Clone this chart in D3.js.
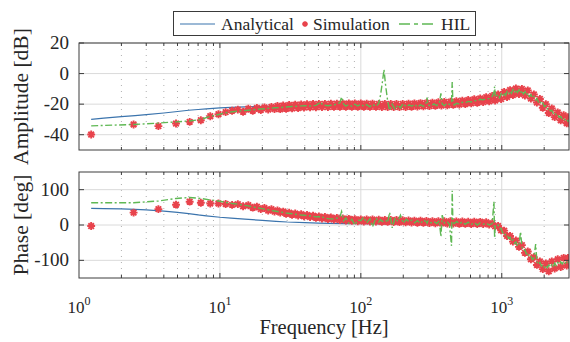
<!DOCTYPE html>
<html>
<head>
<meta charset="utf-8">
<script src="https://cdn.jsdelivr.net/npm/d3@7"></script>
<style>
  body { margin: 0; background: #fff; }
</style>
</head>
<body>
<script>
// analytical model
const anaFreq  = [1.22, 1.5, 2, 2.5, 3, 4, 5, 6, 7, 8, 10, 12, 15, 20, 25, 30, 40, 50, 60, 80, 100, 150];
const anaAmp   = [-30, -29.2, -28.2, -27.5, -26.9, -25.8, -24.8, -24.0, -23.5, -23.1, -22.5, -22.1, -21.8, -21.5, -21.3, -21.1, -21.0, -20.9, -20.8, -20.7, -20.6, -20.6];
const anaPhase = [47, 46.5, 45.5, 44.5, 43, 39.5, 35.5, 32, 28.5, 26, 22, 19.5, 16.5, 13, 10.5, 8.5, 6.5, 5.5, 4.8, 4, 3.5, 3];

// simulation (fft bins, thinned out at high freq)
const simFreq = [
  1.22, 2.44, 3.66, 4.88, 6.10, 7.32, 8.54, 9.76, 10.98, 12.2,
  13.4, 14.6, 15.9, 17.1, 18.3, 19.5, 20.7, 22.0, 23.2, 24.4,
  25.6, 26.8, 28.1, 29.5, 31.0, 32.5, 34.2, 35.9, 37.7, 39.5,
  41.5, 43.6, 45.8, 48.0, 50.4, 53.0, 55.6, 58.4, 61.3, 64.4,
  67.6, 71.0, 74.5, 78.3, 82.2, 86.3, 90.6, 95.1, 99.9, 105,
  110, 116, 121, 128, 134, 141, 148, 155, 163, 171,
  179, 188, 198, 208, 218, 229, 240, 252, 265, 278,
  292, 307, 322, 338, 355, 373, 391, 411, 432, 453,
  476, 500, 525, 551, 578, 607, 638, 670, 703, 738,
  775, 814, 855, 897, 942, 989, 1040, 1090, 1145, 1200,
  1260, 1325, 1390, 1460, 1530, 1610, 1690, 1775, 1865, 1955,
  2055, 2155, 2265, 2375, 2495, 2620, 2750, 2890, 2950, 3000
];
const simAmp = [
  -39.9, -33.3, -34.4, -32.7, -31.6, -30.5, -27.9, -26.6, -25.2, -24.3,
  -23.6, -25.0, -23.0, -24.3, -22.5, -23.8, -22.1, -23.6, -21.8, -23.2,
  -21.2, -23.3, -20.9, -23.0, -20.6, -22.8, -20.4, -22.5, -20.2, -22.3,
  -20.0, -22.1, -19.9, -22.0, -19.8, -21.9, -19.8, -21.9, -19.7, -21.8,
  -19.7, -21.8, -19.6, -21.7, -19.6, -21.7, -19.6, -21.7, -19.6, -21.7,
  -19.7, -21.8, -19.7, -21.8, -19.8, -21.9, -19.8, -21.9, -19.8, -21.9,
  -19.8, -21.9, -19.8, -21.9, -19.7, -21.8, -19.5, -21.6, -19.3, -21.4,
  -19.2, -21.3, -19.0, -21.1, -18.8, -20.9, -18.6, -20.7, -18.4, -20.5,
  -18.1, -20.3, -17.7, -19.9, -17.3, -19.5, -16.8, -19.1, -16.3, -18.7,
  -15.4, -18.2, -14.6, -17.6, -13.6, -16.7, -12.0, -15.3, -10.8, -14.0,
  -9.8, -13.4, -10.0, -14.4, -11.0, -16.4, -13.6, -19.0, -16.6, -22.4,
  -20.0, -25.8, -22.8, -28.5, -25.4, -30.6, -27.3, -32.5, -28.6, -32.6
];
const simPhase = [
  -3, 35, 45, 57.5, 66, 63, 61, 61, 59.5, 57,
  59, 53, 56, 49, 52, 45, 48, 41, 45, 38,
  41, 35, 38, 32, 35, 29, 32.5, 26.5, 30.5, 24.5,
  28.5, 22.5, 26.5, 20.5, 24.5, 18.5, 23, 17, 21.5, 15.5,
  20, 14, 18.5, 12.5, 17.5, 11.5, 16.5, 10.5, 16, 10,
  15.5, 9.5, 15.5, 9.5, 15, 9, 14.5, 9, 14.5, 8.5,
  14, 8, 13.5, 7.5, 13, 7, 12.5, 6.5, 12, 6,
  11.5, 5.5, 11, 5, 11, 4.5, 10.5, 4, 10.5, 4,
  10, 3.5, 10, 3.5, 9.5, 3, 9.5, 3, 9, 2.5,
  8, 1, 5, -4, -3, -15, -16, -31, -31, -47,
  -44, -62, -57, -79, -75, -97, -91, -113, -103, -125,
  -109, -131, -103, -123, -97, -119, -93, -115, -93, -111
];

// hardware in the loop measurement
const hilFreq = [
  1.22, 2.44, 3.66, 4.88, 6.10, 7.32, 8.54, 9.76, 10.98, 12.2,
  13.4, 14.6, 15.9, 17.1, 18.3, 19.5, 20.7, 22.0, 23.2, 24.4,
  26.8, 29.5, 32.5, 35.9, 39.5, 43.6, 48.0, 50.4, 52.0, 53.5,
  58.4, 64.4, 71.0, 73.0, 75.5, 78.3, 82.2, 86.3, 90.6, 95.1,
  99.9, 105, 110, 116, 121, 128, 134, 138, 142, 146,
  150, 155, 160, 167, 175, 183, 191, 200, 210, 220,
  230, 241, 252, 265, 278, 290, 295, 300, 315, 330,
  345, 360, 370, 378, 392, 410, 425, 440, 445, 450,
  460, 480, 500, 525, 550, 578, 607, 638, 670, 703,
  738, 775, 814, 855, 880, 890, 900,
  942, 965, 989, 1015, 1040, 1065, 1090, 1118, 1145, 1172,
  1200, 1230, 1260, 1292, 1325, 1360, 1390, 1425, 1460, 1495,
  1530, 1570, 1610, 1650, 1690, 1740, 1775, 1820, 1865, 1910,
  1955, 2005, 2055, 2105, 2155, 2210, 2265, 2320, 2375, 2435,
  2495, 2555, 2620, 2685, 2750, 2820, 2890, 2950, 3000
];
const hilAmp = [
  -34.2, -33.3, -32.4, -31.6, -31.0, -30.0, -28.0, -26.8, -25.6, -25.0,
  -24.6, -24.3, -24.0, -23.7, -23.4, -23.2, -23.0, -22.8, -22.6, -22.4,
  -22.2, -21.9, -21.5, -21.4, -21.0, -21.2, -20.8, -19.5, -18.5, -20.6,
  -21.0, -20.6, -19.0, -15.3, -20.0, -21.3, -20.2, -21.5, -20.0, -21.2,
  -20.0, -21.5, -20.3, -21.7, -20.0, -21.5, -19.5, -14.0, -6.0, 2.6,
  -8.0, -18.0, -24.0, -20.0, -23.5, -20.5, -22.5, -19.5, -21.8, -20.5,
  -21.4, -20.0, -22.0, -20.4, -21.5, -19.5, -15.7, -20.5, -21.3, -19.8,
  -21.0, -19.5, -13.0, -20.0, -21.0, -19.3, -20.2, -18.5, -5.5, -19.0,
  -20.5, -19.4, -20.0, -18.8, -19.2, -18.2, -18.6, -17.6, -18.0, -16.8,
  -17.2, -16.4, -16.4, -15.0, -12.0, -8.5, -15.5,
  -13.6, -15.8, -13.2, -14.9, -12.3, -14.2, -11.8, -13.6, -11.4, -13.0,
  -10.6, -12.6, -10.5, -12.4, -10.6, -12.9, -11.0, -13.4, -11.8, -14.2,
  -12.6, -15.0, -13.7, -16.0, -14.9, -17.4, -16.3, -18.7, -17.8, -20.2,
  -19.3, -21.6, -20.9, -23.1, -22.4, -24.5, -24.0, -26.0, -25.4, -27.3,
  -26.8, -28.6, -28.0, -29.6, -29.0, -30.6, -29.9, -31.2, -30.4
];
const hilPhase = [
  63, 63, 68, 75, 78, 75, 71, 68, 64, 61,
  59, 56, 54, 51, 49, 47, 45, 43, 41, 39.5,
  37, 34, 32, 29, 27.5, 26, 23, 24, 20, 22,
  18, 17, 22, 38, 12, 20, 5, 16, 0, 14,
  12, 22, 6, 18, -5, 20, 8, 15, 10, 12,
  14, 7, 36, -8, 20, 10, 28, 5, 16, 9,
  14, 6, 12, 4, 14, 10, 5, 12, 6, 10,
  4, 12, -33, 28, 6, 10, 2, -59, 97, 8,
  4, 10, 3, 9, 2, 8, 1, 7, 0, 6,
  2, 5, 0, 4, 66, -37, 0,
  0, -10, -10, -22, -20, -30, -28, -38, -35, -46,
  -42, -52, -48, -60, -55, -19, -62, -72, -70, -82,
  -78, -90, -88, -98, -94, -54, -104, -112, -106, -116,
  -112, -120, -114, -121, -113, -120, -112, -118, -108, -115,
  -106, -112, -104, -110, -103, -108, -102, -106, -101
];

const ampTicks = [20, 0, -20, -40];
const phaseTicks = [100, 0, -100];
const decades = [1, 10, 100, 1000];

const width = 570, height = 342;
const blue = '#3b74ad', red = '#e8434c', green = '#5fb854';
const axisColor = '#3c3c3c', textColor = '#262626';
const serif = "'Liberation Serif'";

const svg = d3.select('body').append('svg')
  .attr('width', width)
  .attr('height', height);

const x = d3.scaleLog().domain([1, 3000]).range([79, 569]);

// MATLAB style asterisk (plus + cross)
const asterisk = {
  draw(ctx, size) {
    const r = Math.sqrt(size) / 2;
    const d = r * Math.SQRT1_2;
    ctx.moveTo(-r, 0); ctx.lineTo(r, 0);
    ctx.moveTo(0, -r); ctx.lineTo(0, r);
    ctx.moveTo(-d, -d); ctx.lineTo(d, d);
    ctx.moveTo(-d, d); ctx.lineTo(d, -d);
  }
};

const minorFreqs = [];
decades.forEach(d => {
  for (let k = 2; k <= 9; k++) if (d * k < 3000) minorFreqs.push(d * k);
});

function panel(id, top, bottom, domain, ticks, ana, sim, hil, label) {
  const y = d3.scaleLinear().domain(domain).range([bottom, top]);
  const g = svg.append('g');
  const x0 = x.range()[0], x1 = x.range()[1];

  g.append('clipPath').attr('id', id)
    .append('rect').attr('x', x0).attr('y', top).attr('width', x1 - x0).attr('height', bottom - top);

  // grid
  g.selectAll('.minor').data(minorFreqs).enter().append('line')
    .attr('x1', d => x(d)).attr('x2', d => x(d))
    .attr('y1', top).attr('y2', bottom)
    .attr('stroke', '#b0b0b0').attr('stroke-width', 1)
    .attr('stroke-dasharray', '1,5');
  g.selectAll('.vmajor').data(decades.slice(1)).enter().append('line')
    .attr('x1', d => x(d)).attr('x2', d => x(d))
    .attr('y1', top).attr('y2', bottom)
    .attr('stroke', '#dadada').attr('stroke-width', 1);
  g.selectAll('.hmajor').data(ticks).enter().append('line')
    .attr('x1', x0).attr('x2', x1)
    .attr('y1', d => y(d)).attr('y2', d => y(d))
    .attr('stroke', '#dadada').attr('stroke-width', 1);

  const plot = g.append('g').attr('clip-path', `url(#${id})`);

  const line = d3.line().x(d => x(d[0])).y(d => y(d[1]));

  plot.append('path')
    .datum(d3.zip(anaFreq, ana))
    .attr('d', line)
    .attr('fill', 'none').attr('stroke', blue).attr('stroke-width', 1.2);

  plot.selectAll('.sim').data(d3.zip(simFreq, sim)).enter().append('path')
    .attr('transform', d => `translate(${x(d[0])},${y(d[1])})`)
    .attr('d', d3.symbol().type(asterisk).size(62))
    .attr('fill', 'none').attr('stroke', red).attr('stroke-width', 1.9);

  plot.append('path')
    .datum(d3.zip(hilFreq, hil))
    .attr('d', line)
    .attr('fill', 'none').attr('stroke', green).attr('stroke-width', 1.4)
    .attr('stroke-dasharray', '7,2.5,2,2.5');

  // box + inward ticks
  g.append('rect')
    .attr('x', x0).attr('y', top).attr('width', x1 - x0).attr('height', bottom - top)
    .attr('fill', 'none').attr('stroke', axisColor).attr('stroke-width', 1);

  [top, bottom].forEach((edge, i) => {
    const dir = i === 0 ? 1 : -1;
    g.selectAll(null).data(minorFreqs).enter().append('line')
      .attr('x1', d => x(d)).attr('x2', d => x(d))
      .attr('y1', edge).attr('y2', edge + dir * 3)
      .attr('stroke', axisColor);
    g.selectAll(null).data(decades.slice(1)).enter().append('line')
      .attr('x1', d => x(d)).attr('x2', d => x(d))
      .attr('y1', edge).attr('y2', edge + dir * 5)
      .attr('stroke', axisColor);
  });
  [x0, x1].forEach((edge, i) => {
    const dir = i === 0 ? 1 : -1;
    g.selectAll(null).data(ticks).enter().append('line')
      .attr('x1', edge).attr('x2', edge + dir * 5)
      .attr('y1', d => y(d)).attr('y2', d => y(d))
      .attr('stroke', axisColor);
  });

  g.selectAll('.ylab').data(ticks).enter().append('text')
    .attr('x', 69).attr('y', d => y(d) + 6)
    .attr('text-anchor', 'end')
    .attr('font-size', 19)
    .style('font-family', serif)
    .attr('fill', textColor)
    .text(d => d);

  g.append('text')
    .attr('transform', `translate(28,${(top + bottom) / 2}) rotate(-90)`)
    .attr('text-anchor', 'middle')
    .attr('font-size', 21.5)
    .style('font-family', serif)
    .attr('fill', textColor)
    .text(label);

  return y;
}

panel('clipA', 43, 150, [-50, 20], ampTicks, anaAmp, simAmp, hilAmp, 'Amplitude [dB]');
panel('clipP', 172, 278, [-150, 150], phaseTicks, anaPhase, simPhase, hilPhase, 'Phase [deg]');

// x tick labels 10^n
const xl = svg.selectAll('.xlab').data(decades).enter().append('text')
  .attr('x', d => x(d)).attr('y', 313)
  .attr('text-anchor', 'middle')
  .attr('font-size', 17)
  .style('font-family', serif)
  .attr('fill', textColor);
xl.append('tspan').text('10');
xl.append('tspan').attr('dy', -8).attr('font-size', 12).text(d => Math.round(Math.log10(d)));

svg.append('text')
  .attr('x', 324).attr('y', 334)
  .attr('text-anchor', 'middle')
  .attr('font-size', 20.5)
  .style('font-family', serif)
  .attr('fill', textColor)
  .text('Frequency [Hz]');

// legend
const lg = svg.append('g');
lg.append('rect')
  .attr('x', 173.5).attr('y', 11.5).attr('width', 302).attr('height', 24)
  .attr('fill', '#fff').attr('stroke', '#3a3a3a').attr('stroke-width', 1);
const ly = 24;
lg.append('line').attr('x1', 180).attr('x2', 215).attr('y1', ly).attr('y2', ly)
  .attr('stroke', blue).attr('stroke-width', 1.2);
lg.append('path').attr('transform', `translate(305,${ly})`)
  .attr('d', d3.symbol().type(asterisk).size(30))
  .attr('fill', 'none').attr('stroke', red).attr('stroke-width', 1.8);
lg.append('line').attr('x1', 399).attr('x2', 436).attr('y1', ly).attr('y2', ly)
  .attr('stroke', green).attr('stroke-width', 1.3).attr('stroke-dasharray', '11,4,4,4');
[['Analytical', 221], ['Simulation', 313], ['HIL', 441]].forEach(([t, px]) => {
  lg.append('text').attr('x', px).attr('y', ly + 6)
    .attr('font-size', 17.5)
    .style('font-family', serif)
    .attr('fill', textColor).text(t);
});
</script>
</body>
</html>
